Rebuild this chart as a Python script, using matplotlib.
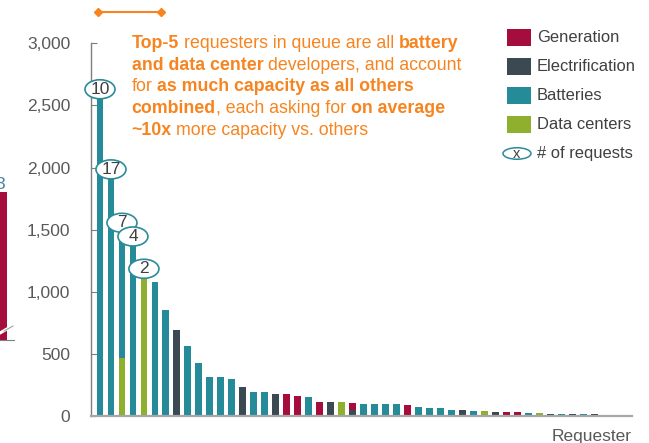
import matplotlib
matplotlib.use('Agg')
import matplotlib.pyplot as plt
from matplotlib.patches import Ellipse, Rectangle
from matplotlib.ticker import FuncFormatter

plt.rcParams['font.family'] = ['Liberation Sans', 'DejaVu Sans']

# ---------------- data ----------------
# total requested capacity per requester (MW), sorted descending
capacity_mw = [2555, 1910, 1480, 1370, 1110, 1080, 850, 690, 565, 425,
               315, 310, 295, 230, 190, 190, 180, 175, 165, 155,
               115, 110, 110, 105, 95, 95, 95, 95, 88, 70,
               62, 62, 47, 50, 42, 38, 35, 30, 30, 26,
               25, 20, 20, 20, 13, 13, 11, 7, 5]
# segment type of the upper (or only) part of each bar
upper_type = ['B', 'B', 'B', 'B', 'D', 'B', 'B', 'E', 'B', 'B',
              'B', 'B', 'B', 'E', 'B', 'B', 'E', 'G', 'G', 'B',
              'G', 'E', 'D', 'G', 'B', 'B', 'B', 'B', 'G', 'B',
              'B', 'B', 'B', 'E', 'B', 'D', 'E', 'G', 'G', 'B',
              'D', 'E', 'B', 'E', 'B', 'E', 'B', 'G', 'E']
# lower stacked part (only a couple of requesters span two categories)
lower_mw = [0, 0, 470, 0, 0, 0, 0, 0, 0, 0,
            0, 0, 0, 0, 0, 0, 0, 0, 0, 0,
            0, 0, 0, 50, 0, 0, 0, 0, 0, 0,
            0, 0, 0, 0, 0, 0, 0, 0, 0, 0,
            0, 0, 0, 0, 0, 0, 0, 0, 0]
lower_type = ['B'] * 2 + ['D'] + ['B'] * 20 + ['E'] + ['B'] * 25
# number of requests for the top-5 requesters
top5_requests = [10, 17, 7, 4, 2]
# neighbouring (cut off) panel bar
neighbor_mw = [1800]

legend_labels = ['Generation', 'Electrification', 'Batteries', 'Data centers']
legend_keys = ['G', 'E', 'B', 'D']
y_ticks = [0, 500, 1000, 1500, 2000, 2500, 3000]

# ---------------- style ----------------
colors = {'G': '#A50D3C', 'E': '#3B4A52', 'B': '#268B99', 'D': '#8FAF2E'}
orange = '#F7841F'
grey_txt = '#595959'
dark_txt = '#404040'

W, H = 649, 443
fig = plt.figure(figsize=(W / 100, H / 100), dpi=100)

# main axes
x0, x1, yb, yt = 91, 632, 416, 43.3
ax = fig.add_axes([x0 / W, (H - yb) / H, (x1 - x0) / W, (yb - yt) / H])
x = list(range(len(capacity_mw)))
upper_mw = [c - l for c, l in zip(capacity_mw, lower_mw)]
ax.bar(x, lower_mw, width=0.62, color=[colors[t] for t in lower_type], zorder=2)
ax.bar(x, upper_mw, bottom=lower_mw, width=0.62,
       color=[colors[t] for t in upper_type], zorder=2)
ax.set_xlim(-0.82, 48.45)
ax.set_ylim(0, 3000)
ax.set_yticks(y_ticks)
ax.yaxis.set_major_formatter(FuncFormatter(lambda v, p: f'{int(v):,}'))
ax.set_xticks([])
for s in ['top', 'right']:
    ax.spines[s].set_visible(False)
ax.spines['left'].set_color('#7F7F7F')
ax.spines['left'].set_linewidth(1.0)
ax.spines['bottom'].set_color('#A6A6A6')
ax.spines['bottom'].set_linewidth(1.6)
ax.tick_params(axis='y', direction='in', length=4, color='#7F7F7F',
               labelsize=12.5, labelcolor=grey_txt, pad=15)

# request bubbles
px_per_x = (x1 - x0) / (48.45 + 0.82)
px_per_y = (yb - yt) / 3000
for i, n in enumerate(top5_requests):
    cy = capacity_mw[i] + 75
    e = Ellipse((i, cy), width=30 / px_per_x, height=19 / px_per_y,
                facecolor='white', edgecolor='#2A8C9A', lw=1.2,
                zorder=5 + 2 * i, clip_on=False)
    ax.add_patch(e)
    ax.text(i, cy, str(n), ha='center', va='center', fontsize=12.5,
            color=dark_txt, zorder=6 + 2 * i)

# "Requester" label
ax.text(1.0, -0.035, 'Requester', transform=ax.transAxes, ha='right', va='top',
        fontsize=12.5, color=grey_txt)

# cut-off neighbouring panel at far left
axl = fig.add_axes([0, (H - 340) / H, 14 / W, (340 - 175) / H])
axl.bar([0], neighbor_mw, width=1, align='edge', color=colors['G'])
axl.set_xlim(0, 2.1)
axl.set_ylim(0, 2000)
axl.set_xticks([]); axl.set_yticks([])
for s in ['top', 'right', 'left']:
    axl.spines[s].set_visible(False)
axl.spines['bottom'].set_color('#7F7F7F')
axl.text(0.0, 1880, '3', ha='center', va='center', fontsize=12.5,
         color='#4A7F99', clip_on=True)
axl.patch.set_alpha(0)

# overlay in pixel coordinates for annotations and legend
ov = fig.add_axes([0, 0, 1, 1])
ov.set_xlim(0, W)
ov.set_ylim(H, 0)
ov.axis('off')

# break marks on neighbour bar
ov.plot([0, 12], [333, 326], color='white', lw=2.2)
ov.plot([4, 13], [331, 326], color='#A0A0A0', lw=0.8)

# orange bracket line
ov.plot([97.5, 161], [11.5, 11.5], color=orange, lw=1.5, marker='D',
        markersize=4.5)

# annotation with mixed weights
fig.canvas.draw()
renderer = fig.canvas.get_renderer()
fs = 12.75


def text_width(s, weight):
    t = ov.text(0, 0, s, fontsize=fs, fontweight=weight)
    w = t.get_window_extent(renderer).width
    t.remove()
    return w


space_w = {w: text_width('x x', w) - text_width('xx', w) for w in ['normal', 'bold']}

lines = [
    [('Top-5', 'bold'), (' requesters in queue are all ', 'normal'), ('battery', 'bold')],
    [('and data center', 'bold'), (' developers, and account', 'normal')],
    [('for ', 'normal'), ('as much capacity as all others', 'bold')],
    [('combined', 'bold'), (', each asking for ', 'normal'), ('on average', 'bold')],
    [('~10x', 'bold'), (' more capacity vs. others', 'normal')],
]
y_line = 43.5
for segs in lines:
    cx = 131.5
    for s, wgt in segs:
        lead = len(s) - len(s.lstrip(' '))
        trail = len(s) - len(s.rstrip(' '))
        core = s.strip(' ')
        cx += lead * space_w[wgt]
        t = ov.text(cx, y_line, core, fontsize=fs, fontweight=wgt, color=orange,
                    ha='left', va='center')
        cx += t.get_window_extent(renderer).width
        cx += trail * space_w[wgt]
    y_line += 21.7

# legend
leg_y = [37.7, 66.7, 95, 124]
for yy, key, lab in zip(leg_y, legend_keys, legend_labels):
    ov.add_patch(Rectangle((507, yy - 8.5), 23.5, 17, facecolor=colors[key],
                           edgecolor='none'))
    ov.text(537, yy, lab, fontsize=11.9, color=dark_txt, va='center', ha='left')
ov.add_patch(Ellipse((517, 153.5), 28, 11.5, facecolor='white',
                     edgecolor='#2A8C9A', lw=1.1))
ov.text(517, 154, 'x', fontsize=10.5, color=dark_txt, ha='center', va='center')
ov.text(537, 153.5, '# of requests', fontsize=11.9, color=dark_txt, va='center',
        ha='left')

fig.savefig('out.png', dpi=100)
